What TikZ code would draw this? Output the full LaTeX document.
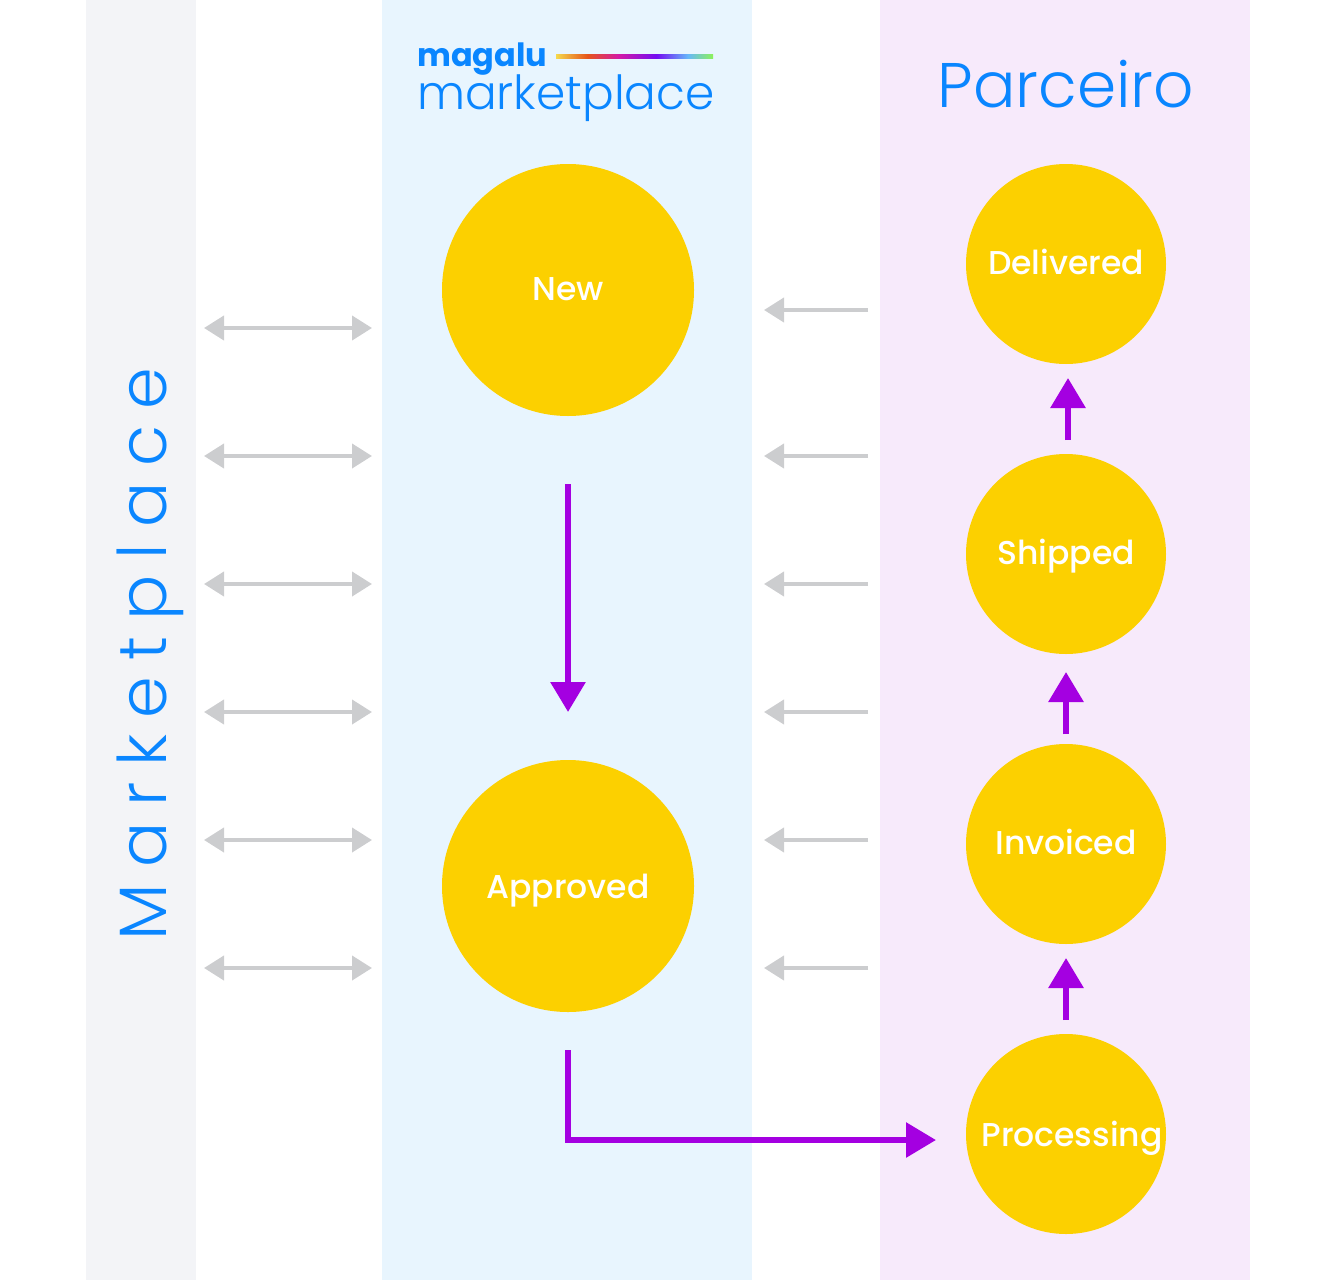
\documentclass[tikz,border=0pt]{standalone}
\usepackage{fontspec}
\setmainfont{Poppins}
\newfontfamily\medfont[UprightFont=* Medium]{Poppins}
\newfontfamily\lightfont[UprightFont=* Light]{Poppins}
\newfontfamily\boldfont[UprightFont=* Bold]{Poppins}
\usetikzlibrary{arrows.meta}
\definecolor{bandgray}{HTML}{F3F4F7}
\definecolor{bandblue}{HTML}{E8F5FE}
\definecolor{bandpurple}{HTML}{F7EAFB}
\definecolor{stategold}{HTML}{FCD000}
\definecolor{flowpurple}{HTML}{A400E1}
\definecolor{syncgray}{HTML}{CCCDCF}
\definecolor{titleblue}{HTML}{0A86FF}
% only the middle 50bp of a shading is seen
\pgfdeclarehorizontalshading{magalubar}{100bp}{
  rgb(0bp)=(0.96,0.85,0.30);
  rgb(25bp)=(0.96,0.85,0.30);
  rgb(35bp)=(0.90,0.33,0.10);
  rgb(45bp)=(0.83,0.10,0.65);
  rgb(57bp)=(0.45,0.05,0.95);
  rgb(67bp)=(0.40,0.72,0.98);
  rgb(75bp)=(0.55,0.95,0.35);
  rgb(100bp)=(0.55,0.95,0.35)}
\tikzset{
  state/.style={circle,fill=stategold,text=white,inner sep=0pt,text height=21pt,text depth=0pt,font=\medfont\fontsize{33}{36}\selectfont},
  bigstate/.style={state,minimum size=252pt},
  smallstate/.style={state,minimum size=200pt},
  flow/.style={draw=flowpurple,line width=6pt,-{Triangle[length=30pt,width=34pt]}},
  sync/.style={draw=syncgray,line width=4pt,-{Triangle[length=20pt,width=24pt]}},
  syncboth/.style={draw=syncgray,line width=4pt,{Triangle[length=20pt,width=24pt]}-{Triangle[length=20pt,width=24pt]}},
  title/.style={text=titleblue,inner sep=0pt}
}
\begin{document}
\begin{tikzpicture}[x=1pt,y=-1pt]
	\useasboundingbox (0,0) rectangle (1342,1280);
	% columns
	\fill[bandgray] (86,0) rectangle (196,1280);
	\fill[bandblue] (382,0) rectangle (752,1280);
	\fill[bandpurple] (880,0) rectangle (1250,1280);
	% titles
	\node[title,rotate=90,font=\lightfont\fontsize{67}{72}\selectfont] (marketplace) at (150,654) {\addfontfeature{LetterSpace=24}Marketplace};
	\node[title,font=\lightfont\fontsize{63}{72}\selectfont] (parceiro) at (1066,84) {Parceiro};
	\node[title,anchor=west,font=\boldfont\fontsize{32}{36}\selectfont] (magalu) at (417,59) {magalu};
	\node[title,anchor=west,font=\lightfont\fontsize{47}{56}\selectfont] (brand) at (417,98) {marketplace};
	\shade[shading=magalubar] (556,54) rectangle (713,58);
	% states
	\node[bigstate] (new) at (568,290) {New};
	\node[bigstate,text height=25pt] (approved) at (568,886) {Approved};
	\node[smallstate] (delivered) at (1066,264) {Delivered};
	\node[smallstate] (shipped) at (1066,554) {Shipped};
	\node[smallstate] (invoiced) at (1066,844) {Invoiced};
	\node[smallstate] (processing) at (1066,1134) {};
	\node[state,fill=none] (processingtext) at (1072,1136) {Processing};
	% flow between states
	\coordinate (newout) at (568,484);
	\coordinate (approvedin) at (568,712);
	\coordinate (approvedout) at (568,1050);
	\coordinate (processingin) at (936,1140);
	\coordinate (pa) at (1066,1020);
	\coordinate (pb) at (1066,958);
	\coordinate (ia) at (1066,734);
	\coordinate (ib) at (1066,672);
	\coordinate (sa) at (1068,440);
	\coordinate (sb) at (1068,378);
	\draw[flow] (newout) -- (approvedin);
	\draw[flow] (approvedout) |- (processingin);
	\draw[flow] (pa) -- (pb);
	\draw[flow] (ia) -- (ib);
	\draw[flow] (sa) -- (sb);
	% sync arrows
	\foreach \y [count=\i] in {328,456,584,712,840,968} {
		\coordinate (la\i) at (204,\y);
		\coordinate (lb\i) at (372,\y);
		\draw[syncboth] (la\i) -- (lb\i);
	}
	\foreach \y [count=\i] in {310,456,584,712,840,968} {
		\coordinate (ra\i) at (868,\y);
		\coordinate (rb\i) at (764,\y);
		\draw[sync] (ra\i) -- (rb\i);
	}
\end{tikzpicture}
\end{document}
